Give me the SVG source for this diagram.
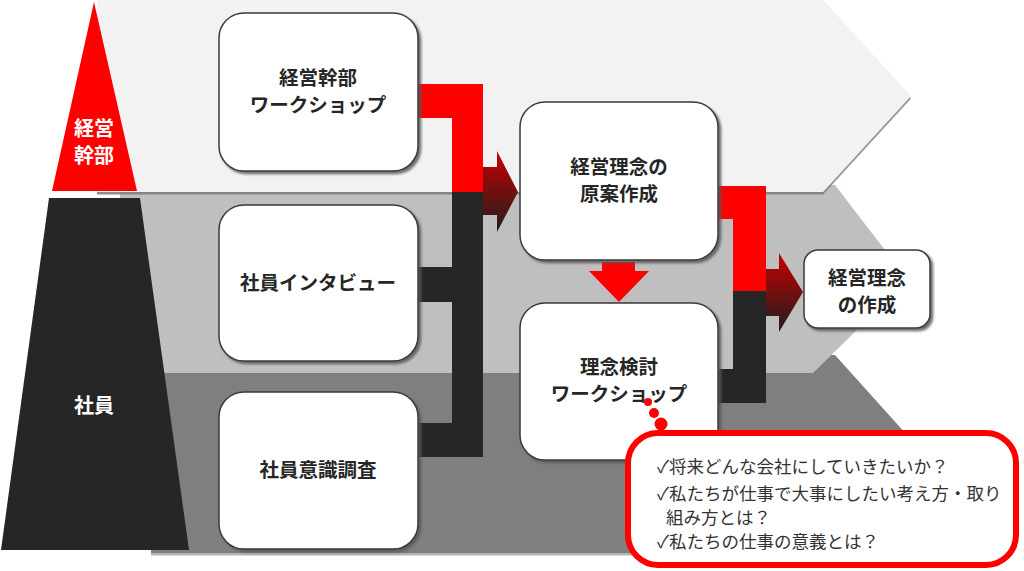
<svg xmlns="http://www.w3.org/2000/svg" width="1024" height="571" viewBox="0 0 1024 571">
<defs>
<filter id="bandShadow" x="-5%" y="-5%" width="110%" height="115%">
<feDropShadow dx="0" dy="2.5" stdDeviation="0.6" flood-color="#7f7f7f" flood-opacity="0.9"/>
</filter>
<filter id="bandShadowLight" x="-5%" y="-5%" width="110%" height="115%">
<feDropShadow dx="0" dy="2.5" stdDeviation="0.5" flood-color="#a0a0a0" flood-opacity="0.8"/>
</filter>
<filter id="boxShadow" x="-10%" y="-10%" width="125%" height="125%">
<feDropShadow dx="2.5" dy="2.5" stdDeviation="1" flood-color="#595959" flood-opacity="0.85"/>
</filter>
<linearGradient id="g1" x1="0" y1="0" x2="0" y2="1">
<stop offset="0" stop-color="#c80000"/>
<stop offset="1" stop-color="#1e1e1e"/>
</linearGradient>
</defs>
<style>
.box{fill:#ffffff;stroke:#3a3a3a;stroke-width:1.5;filter:url(#boxShadow);}
.lbl{font-family:"Noto Sans CJK JP","Noto Sans CJK SC",sans-serif;font-weight:bold;font-size:19.5px;fill:#262626;text-anchor:middle;dominant-baseline:central;}
.wlbl{font-family:"Noto Sans CJK JP","Noto Sans CJK SC",sans-serif;font-weight:bold;font-size:20px;fill:#ffffff;text-anchor:middle;dominant-baseline:central;}
.q{font-family:"Noto Sans CJK JP","Noto Sans CJK SC",sans-serif;font-size:17.5px;fill:#333333;dominant-baseline:central;}
.red{fill:#ff0000;}
.blk{fill:#262626;}
</style>

<g id="bands">
<polygon points="151,355 835,355 925,455 835,553 151,553" fill="#7f7f7f" filter="url(#bandShadowLight)"/>
<polygon points="120,185 835,185 908,280 813,373 120,373" fill="#bfbfbf"/>
<polygon points="97,0 823,0 911,96 823,192 97,192" fill="#f2f2f2" filter="url(#bandShadow)"/>
</g>

<g id="level-executives">
<polygon points="94,2 137,191 52,191" fill="#ff0000"/>
<text class="wlbl" x="94" y="127">経営<tspan x="94" dy="27">幹部</tspan></text>
</g>
<g id="level-employees">
<polygon points="49,198 140,198 189,550 1,550" fill="#262626"/>
<text class="wlbl" x="94" y="404">社員</text>
</g>

<g id="connectors">
<polygon class="red" points="410,84 483,84 483,192 452,192 452,118 410,118"/>
<polygon class="blk" points="452,192 483,192 483,457 410,457 410,423 452,423 452,302 410,302 410,267 452,267"/>
<polygon fill="url(#g1)" points="483,167 497,167 497,151 518,192 497,232 497,215 483,215"/>
<polygon class="red" points="602,262 635,262 635,271 649,271 619,302 589,271 602,271"/>
<polygon class="red" points="710,186 766,186 766,291 733,291 733,219 710,219"/>
<polygon class="blk" points="733,291 766,291 766,403 710,403 710,369 733,369"/>
<polygon fill="url(#g1)" points="766,269 779,269 779,253 803,292 779,332 779,316 766,316"/>
</g>

<g id="node-exec-workshop">
<rect class="box" x="219" y="13" width="199" height="158" rx="25"/>
<text class="lbl" x="318" y="76">経営幹部<tspan x="318" dy="27">ワークショップ</tspan></text>
</g>
<g id="node-interview">
<rect class="box" x="219" y="205" width="199" height="156" rx="25"/>
<text class="lbl" x="318" y="281">社員インタビュー</text>
</g>
<g id="node-survey">
<rect class="box" x="219" y="392" width="199" height="157" rx="25"/>
<text class="lbl" x="318" y="468">社員意識調査</text>
</g>
<g id="node-draft">
<rect class="box" x="520" y="102" width="198" height="158" rx="25"/>
<text class="lbl" x="619" y="165">経営理念の<tspan x="619" dy="27">原案作成</tspan></text>
</g>
<g id="node-review-workshop">
<rect class="box" x="520" y="303" width="198" height="157" rx="25"/>
<text class="lbl" x="619" y="365">理念検討<tspan x="619" dy="27">ワークショップ</tspan></text>
</g>
<g id="node-final">
<rect class="box" x="804" y="250" width="126" height="78" rx="14"/>
<text class="lbl" x="867" y="276">経営理念<tspan x="867" dy="27">の作成</tspan></text>
</g>

<g id="callout">
<circle class="red" cx="648" cy="402" r="4"/>
<circle class="red" cx="654" cy="413" r="5"/>
<circle class="red" cx="661" cy="424" r="6.5"/>
<rect x="628" y="433" width="388" height="132" rx="30" fill="#ffffff" stroke="#ff0000" stroke-width="6"/>
<text class="q" x="657" y="465">✓将来どんな会社にしていきたいか？</text>
<text class="q" x="657" y="492">✓私たちが仕事で大事にしたい考え方・取り</text>
<text class="q" x="666" y="516">組み方とは？</text>
<text class="q" x="657" y="540">✓私たちの仕事の意義とは？</text>
</g>
</svg>
